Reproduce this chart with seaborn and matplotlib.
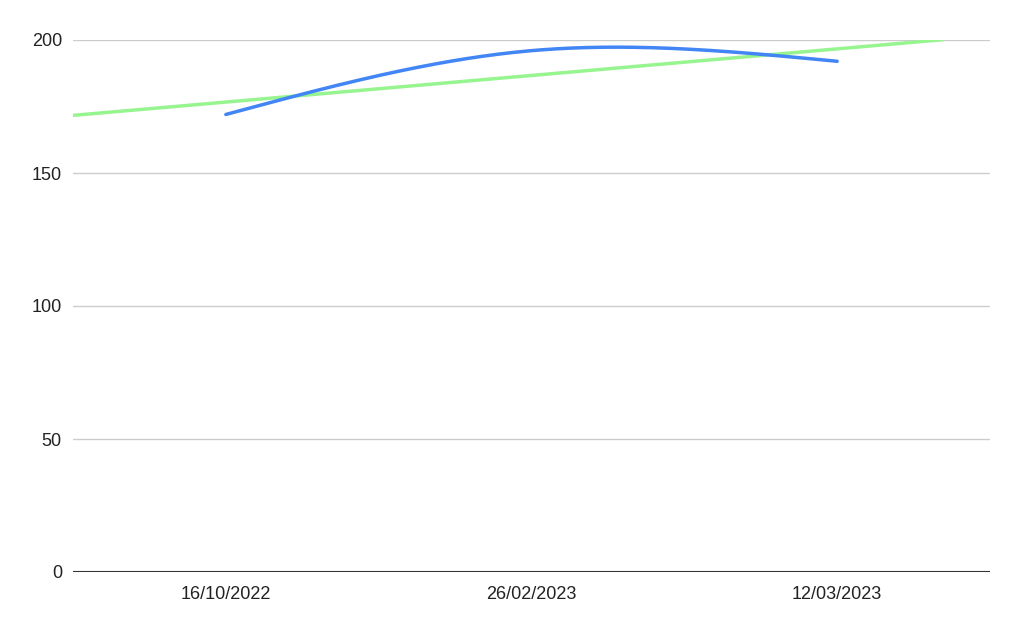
import numpy as np
import pandas as pd
import matplotlib
matplotlib.use("Agg")
import matplotlib.pyplot as plt
import seaborn as sns

categories = ["16/10/2022", "26/02/2023", "12/03/2023"]
values = [172, 196, 192]
y_ticks = [0, 50, 100, 150, 200]

sns.set_theme(style="white")
plt.rcParams['font.family'] = ['Liberation Sans', 'DejaVu Sans']

fig = plt.figure(figsize=(10.23, 6.33), dpi=100)
ax = fig.add_axes([73/1023, 61/633, 917/1023, 532/633])

# natural cubic spline through the points (smooth line)
x = np.arange(len(values), dtype=float)
y = np.array(values, dtype=float)
n = len(x)
h = np.diff(x)
A = np.zeros((n, n)); b = np.zeros(n)
A[0, 0] = 1; A[-1, -1] = 1
for i in range(1, n - 1):
    A[i, i - 1] = h[i - 1]; A[i, i] = 2 * (h[i - 1] + h[i]); A[i, i + 1] = h[i]
    b[i] = 6 * ((y[i + 1] - y[i]) / h[i] - (y[i] - y[i - 1]) / h[i - 1])
M = np.linalg.solve(A, b)
xs, ys = [], []
for i in range(n - 1):
    t = np.linspace(x[i], x[i + 1], 100)
    hi = h[i]
    s = (M[i] * (x[i + 1] - t) ** 3 / (6 * hi) + M[i + 1] * (t - x[i]) ** 3 / (6 * hi)
         + (y[i] / hi - M[i] * hi / 6) * (x[i + 1] - t) + (y[i + 1] / hi - M[i + 1] * hi / 6) * (t - x[i]))
    xs.extend(t); ys.extend(s)
df = pd.DataFrame({"x": xs, "y": ys})

for yt in y_ticks[1:]:
    ax.axhline(yt, color="#cccccc", lw=1, zorder=0)

# linear trendline
coef = np.polyfit(x, y, 1)
tx = np.linspace(-0.5, 2.5, 200)
ty = np.polyval(coef, tx)
mask = ty <= 200.3
ax.plot(tx[mask], ty[mask], color="#97f58f", lw=2.5, zorder=2, solid_capstyle="butt")

sns.lineplot(data=df, x="x", y="y", ax=ax, color="#4285f4", lw=2.5, sort=False, zorder=3)

ax.axhline(0, color="#333333", lw=1.5, zorder=4)
ax.set_xlim(-0.5, 2.5)
ax.set_ylim(0, 200)
ax.set_xticks(range(len(categories)))
ax.set_xticklabels(categories, fontsize=13, color="#222222")
ax.set_yticks(y_ticks)
ax.set_yticklabels([str(v) for v in y_ticks], fontsize=13, color="#222222")
ax.tick_params(axis="x", length=0, pad=10)
ax.tick_params(axis="y", length=0, pad=8)
ax.set_xlabel(""); ax.set_ylabel("")
for sp in ax.spines.values():
    sp.set_visible(False)

fig.savefig("out.png", dpi=100)
